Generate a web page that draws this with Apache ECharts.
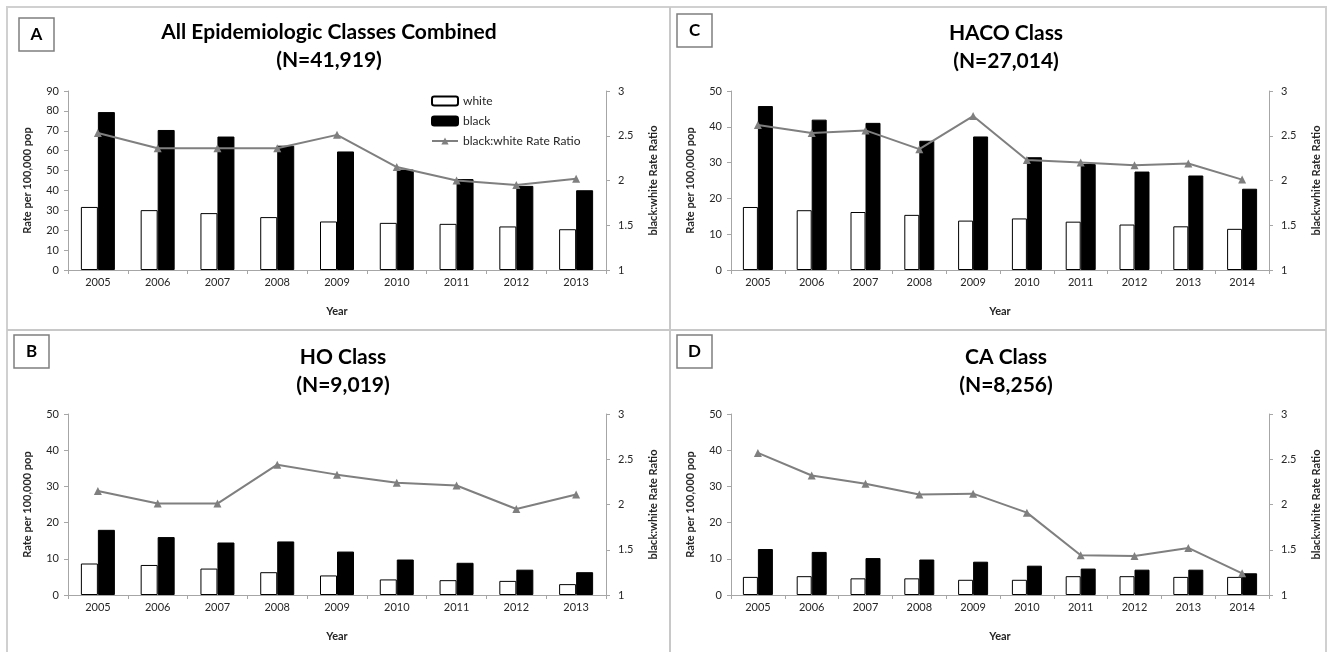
<!DOCTYPE html>
<html>
<head>
<meta charset="utf-8">
<script src="https://cdn.jsdelivr.net/npm/echarts@6/dist/echarts.min.js"></script>
<style>
html,body{margin:0;padding:0;background:#fff;}
#chart{width:1334px;height:652px;}
</style>
</head>
<body>
<div id="chart"></div>
<script>
// ---- data ----
const yearsA = ['2005','2006','2007','2008','2009','2010','2011','2012','2013'];
const yearsC = ['2005','2006','2007','2008','2009','2010','2011','2012','2013','2014'];

// Panel A: All Epidemiologic Classes Combined
const aWhite = [31.7, 30.1, 28.6, 26.6, 24.4, 23.7, 23.2, 21.9, 20.5];
const aBlack = [79.4, 70.4, 67.1, 62.5, 59.6, 50.5, 45.7, 42.3, 40.1];
const aRatio = [2.53, 2.36, 2.36, 2.36, 2.51, 2.15, 2.00, 1.95, 2.02];

// Panel C: HACO Class
const cWhite = [17.6, 16.7, 16.2, 15.4, 13.8, 14.4, 13.5, 12.7, 12.2, 11.5];
const cBlack = [45.8, 42.0, 41.1, 36.1, 37.3, 31.5, 29.6, 27.5, 26.4, 22.7];
const cRatio = [2.62, 2.53, 2.56, 2.35, 2.72, 2.23, 2.20, 2.17, 2.19, 2.01];

// Panel B: HO Class
const bWhite = [8.7, 8.3, 7.3, 6.3, 5.4, 4.3, 4.1, 3.9, 3.0];
const bBlack = [18.0, 16.0, 14.5, 14.8, 12.0, 9.8, 8.9, 7.0, 6.3];
const bRatio = [2.15, 2.01, 2.01, 2.44, 2.33, 2.24, 2.21, 1.95, 2.11];

// Panel D: CA Class
const dWhite = [5.0, 5.2, 4.6, 4.6, 4.2, 4.2, 5.2, 5.2, 5.0, 5.0];
const dBlack = [12.7, 11.9, 10.2, 9.8, 9.2, 8.1, 7.3, 7.0, 7.0, 6.0];
const dRatio = [2.57, 2.32, 2.23, 2.11, 2.12, 1.91, 1.44, 1.43, 1.52, 1.24];

const titles = [
  'All Epidemiologic Classes Combined\n(N=41,919)',
  'HACO Class\n(N=27,014)',
  'HO Class\n(N=9,019)',
  'CA Class\n(N=8,256)'
];
const panelLetters = ['A','C','B','D'];
const leftMax = [90, 50, 50, 50];

// ---- layout ----
const FONT = 'Lato, "Liberation Sans", sans-serif';
const grids = [
  {left: 68, top: 91, width: 538, height: 179},
  {left: 731, top: 91, width: 538, height: 179},
  {left: 68, top: 414, width: 538, height: 181},
  {left: 731, top: 414, width: 538, height: 181}
];
const titlePos = [[324, 13], [1001, 14], [338, 338], [1001, 338]];
const boxPos = [[19, 18], [677, 14], [14, 335], [677, 335]];
const barW = [17, 15, 17, 15];
const cats = [yearsA, yearsC, yearsA, yearsC];
const whites = [aWhite, cWhite, bWhite, dWhite];
const blacks = [aBlack, cBlack, bBlack, dBlack];
const ratios = [aRatio, cRatio, bRatio, dRatio];

const axisLineGray = '#a6a6a6';
const labelColor = '#262626';

const xAxes = [], yAxes = [], series = [], titleComps = [], graphics = [];

// panel frame lines
graphics.push({type:'rect', shape:{x:7, y:7, width:1319, height:660}, style:{fill:'none', stroke:'#d0d0d0', lineWidth:2}, silent:true});
graphics.push({type:'line', shape:{x1:670, y1:7, x2:670, y2:660}, style:{stroke:'#c8c8c8', lineWidth:2}, silent:true});
graphics.push({type:'line', shape:{x1:7, y1:330, x2:1326, y2:330}, style:{stroke:'#c8c8c8', lineWidth:2}, silent:true});

for (let i = 0; i < 4; i++) {
  xAxes.push({
    type: 'category', gridIndex: i, data: cats[i],
    name: 'Year', nameLocation: 'middle', nameGap: 36,
    nameTextStyle: {fontFamily: FONT, fontWeight: 'bold', fontSize: 11, color: labelColor},
    axisLine: {lineStyle: {color: axisLineGray, width: 1}},
    axisTick: {show: true, length: 4, lineStyle: {color: axisLineGray}},
    axisLabel: {fontFamily: FONT, fontSize: 11, color: labelColor, margin: 7},
    splitLine: {show: false}
  });
  yAxes.push({
    type: 'value', gridIndex: i, position: 'left', min: 0, max: leftMax[i], interval: 10,
    name: 'Rate per 100,000 pop', nameLocation: 'middle', nameGap: 35, nameRotate: 90,
    nameTextStyle: {fontFamily: FONT, fontWeight: 'bold', fontSize: 11, color: labelColor},
    axisLine: {show: true, lineStyle: {color: axisLineGray, width: 1}},
    axisTick: {show: true, length: 4, lineStyle: {color: axisLineGray}},
    axisLabel: {fontFamily: FONT, fontSize: 11, color: labelColor, margin: 9},
    splitLine: {show: false}
  });
  yAxes.push({
    type: 'value', gridIndex: i, position: 'right', min: 1, max: 3, interval: 0.5,
    name: 'black:white Rate Ratio', nameLocation: 'middle', nameGap: 42, nameRotate: 90,
    nameTextStyle: {fontFamily: FONT, fontWeight: 'bold', fontSize: 11, color: labelColor},
    axisLine: {show: true, lineStyle: {color: axisLineGray, width: 1}},
    axisTick: {show: true, length: 4, lineStyle: {color: axisLineGray}},
    axisLabel: {fontFamily: FONT, fontSize: 11, color: labelColor, margin: 12},
    splitLine: {show: false}
  });
  series.push({
    name: 'white', type: 'bar', xAxisIndex: i, yAxisIndex: 2*i,
    data: whites[i], barWidth: barW[i], barGap: '0%',
    itemStyle: {color: '#ffffff', borderColor: '#000000', borderWidth: 1}
  });
  series.push({
    name: 'black', type: 'bar', xAxisIndex: i, yAxisIndex: 2*i,
    data: blacks[i], barWidth: barW[i], barGap: '0%',
    itemStyle: {color: '#000000', borderColor: '#000000', borderWidth: 1}
  });
  series.push({
    name: 'black:white Rate Ratio', type: 'line', xAxisIndex: i, yAxisIndex: 2*i+1,
    data: ratios[i], symbol: 'triangle', symbolSize: 8,
    lineStyle: {color: '#7f7f7f', width: 2},
    itemStyle: {color: '#7f7f7f'}, z: 5
  });
  titleComps.push({
    text: titles[i], left: titlePos[i][0], top: titlePos[i][1], textAlign: 'center',
    textStyle: {fontFamily: FONT, fontWeight: 'bold', fontSize: 21, color: '#000', lineHeight: 28}
  });
  graphics.push({type:'rect', shape:{x:boxPos[i][0], y:boxPos[i][1], width:35, height:33},
    style:{fill:'#fff', stroke:'#7f7f7f', lineWidth:1.5}, silent:true});
  graphics.push({type:'text', x:boxPos[i][0]+17.5, y:boxPos[i][1]+16.5,
    style:{text: panelLetters[i], fill:'#000', font:'bold 17px ' + FONT, textAlign:'center', textVerticalAlign:'middle'}, silent:true});
}

const chart = echarts.init(document.getElementById('chart'));
chart.setOption({
  animation: false,
  backgroundColor: '#fff',
  title: titleComps,
  grid: grids,
  xAxis: xAxes,
  yAxis: yAxes,
  legend: {
    orient: 'vertical', left: 426, top: 90,
    itemWidth: 26, itemHeight: 9, itemGap: 8,
    data: ['white', 'black', 'black:white Rate Ratio'],
    textStyle: {fontFamily: FONT, fontSize: 12, color: labelColor}
  },
  graphic: graphics,
  series: series
});
</script>
</body>
</html>
